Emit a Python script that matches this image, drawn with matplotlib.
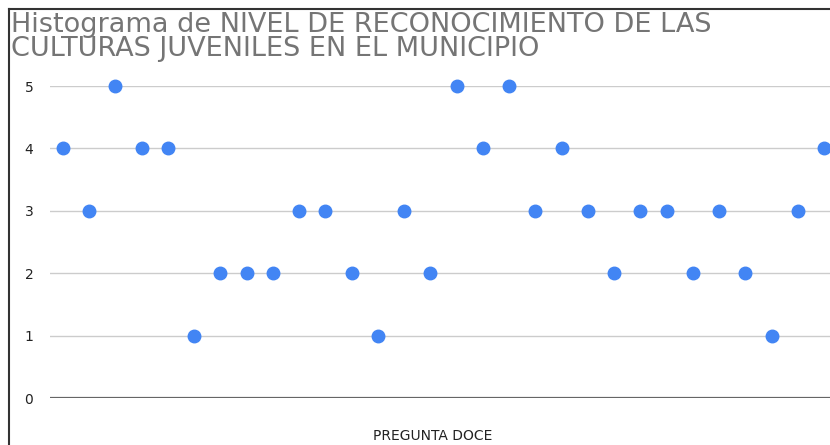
import matplotlib.pyplot as plt
from matplotlib.lines import Line2D

# data
respuestas = [4, 3, 5, 4, 4, 1, 2, 2, 2, 3, 3, 2, 1, 3, 2,
              5, 4, 5, 3, 4, 3, 2, 3, 3, 2, 3, 2, 1, 3, 4]
y_ticks = [0, 1, 2, 3, 4, 5]
titulo = ["Histograma de NIVEL DE RECONOCIMIENTO DE LAS",
          "CULTURAS JUVENILES EN EL MUNICIPIO"]
x_label = "PREGUNTA DOCE"

W, H = 830, 445
fig = plt.figure(figsize=(W / 100, H / 100), dpi=100)
plt.rcParams['font.family'] = ['DejaVu Sans']

# plot area in pixels
left, right, top, bottom = 50, 830, 86, 398
ax = fig.add_axes([left / W, 1 - bottom / H, (right - left) / W, (bottom - top) / H])

x = list(range(len(respuestas)))
ax.plot(x, respuestas, linestyle="none", marker="o", markersize=9,
        color="#4285F4", clip_on=False, zorder=3)

step = (824 - 63) / (len(respuestas) - 1)
ax.set_xlim(-(63 - left) / step, len(respuestas) - 1 + (right - 824) / step)
ax.set_ylim(0, 5)
ax.set_yticks(y_ticks)
ax.set_yticklabels([str(t) for t in y_ticks], fontsize=10, color="#222222")
ax.tick_params(axis="y", length=0, pad=12)
ax.set_xticks([])
for s in ax.spines.values():
    s.set_visible(False)
for t in y_ticks[1:]:
    ax.axhline(t, color="#cccccc", lw=1, zorder=1)
ax.axhline(0, color="#666666", lw=1.6, zorder=2)

for i, linea in enumerate(titulo):
    fig.text(11 / W, 1 - (32 + 24 * i) / H, linea, fontsize=19.5, color="#757575",
             ha="left", va="baseline")
fig.text(433 / W, 1 - 440 / H, x_label, fontsize=10, color="#222222",
         ha="center", va="baseline")

# screenshot border
fig.add_artist(Line2D([9 / W, 9 / W], [0, 1 - 9 / H], color="#333333", lw=1.5))
fig.add_artist(Line2D([9 / W, 1], [1 - 9 / H, 1 - 9 / H], color="#333333", lw=1.5))

fig.savefig("out.png", dpi=100)
